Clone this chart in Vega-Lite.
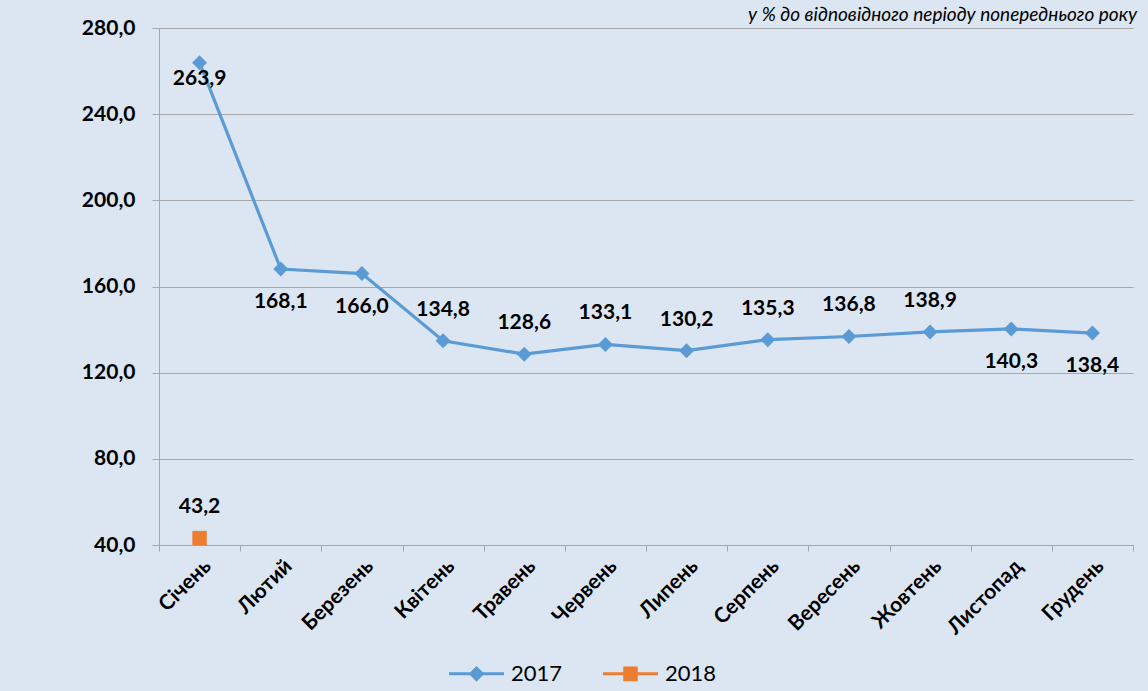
{
  "$schema": "https://vega.github.io/schema/vega-lite/v6.json",
  "width": 974,
  "height": 517,
  "autosize": {"type": "none"},
  "padding": {"left": 159, "top": 28, "right": 15, "bottom": 146},
  "background": "#DCE6F2",
  "config": {
    "locale": {"number": {"decimal": ",", "thousands": " ", "grouping": [3], "currency": ["", ""]}},
    "view": {"stroke": null},
    "font": "Lato"
  },
  "title": {
    "text": "у % до відповідного періоду попереднього року",
    "anchor": "end",
    "frame": "group",
    "fontStyle": "italic",
    "fontWeight": "normal",
    "fontSize": 19,
    "font": "Lato",
    "color": "black",
    "baseline": "alphabetic",
    "offset": -23,
    "dx": 4
  },
  "data": {
    "values": [
      {"month": "Січень", "series": "2017", "value": 263.9},
      {"month": "Лютий", "series": "2017", "value": 168.1},
      {"month": "Березень", "series": "2017", "value": 166.0},
      {"month": "Квітень", "series": "2017", "value": 134.8},
      {"month": "Травень", "series": "2017", "value": 128.6},
      {"month": "Червень", "series": "2017", "value": 133.1},
      {"month": "Липень", "series": "2017", "value": 130.2},
      {"month": "Серпень", "series": "2017", "value": 135.3},
      {"month": "Вересень", "series": "2017", "value": 136.8},
      {"month": "Жовтень", "series": "2017", "value": 138.9},
      {"month": "Листопад", "series": "2017", "value": 140.3},
      {"month": "Грудень", "series": "2017", "value": 138.4},
      {"month": "Січень", "series": "2018", "value": 43.2}
    ]
  },
  "encoding": {
    "x": {
      "field": "month",
      "type": "nominal",
      "sort": ["Січень", "Лютий", "Березень", "Квітень", "Травень", "Червень", "Липень", "Серпень", "Вересень", "Жовтень", "Листопад", "Грудень"],
      "scale": {"type": "band", "paddingInner": 0, "paddingOuter": 0},
      "bandPosition": 0.5,
      "axis": {
        "title": null,
        "labelAngle": -45,
        "labelFont": "Lato",
        "labelFontWeight": "bold",
        "labelFontSize": 21,
        "labelColor": "black",
        "labelPadding": 4,
        "tickBand": "extent",
        "tickColor": "#A6A6A6",
        "tickSize": 6,
        "domainColor": "#A6A6A6",
        "grid": false
      }
    },
    "y": {
      "field": "value",
      "type": "quantitative",
      "scale": {"domain": [40, 280], "nice": false, "zero": false},
      "axis": {
        "title": null,
        "values": [40, 80, 120, 160, 200, 240, 280],
        "format": ".1f",
        "labelFont": "Lato",
        "labelFontWeight": "bold",
        "labelFontSize": 21,
        "labelColor": "black",
        "labelPadding": 17,
        "tickSize": 7,
        "tickColor": "#A6A6A6",
        "domainColor": "#A6A6A6",
        "grid": true,
        "gridColor": "#A6A6A6",
        "gridOpacity": 1
      }
    }
  },
  "layer": [
    {
      "mark": {"type": "line", "strokeWidth": 3.2},
      "encoding": {
        "color": {
          "field": "series",
          "type": "nominal",
          "scale": {"domain": ["2017", "2018"], "range": ["#5B9BD5", "#ED7D31"]},
          "legend": {
            "orient": "none",
            "legendX": 302,
            "legendY": 630,
            "direction": "horizontal",
            "title": null,
            "symbolSize": 756,
            "symbolStrokeWidth": 3,
            "symbolOpacity": 1,
            "labelFont": "Lato",
            "labelFontSize": 22,
            "labelColor": "black",
            "labelOffset": 19,
            "columnPadding": 34,
            "encode": {
              "symbols": {
                "update": {
                  "shape": {"signal": "datum.value === '2017' ? 'M-2,0H2M0,-0.42L0.42,0L0,0.42L-0.42,0Z' : 'M-2,0H2M-0.42,-0.42H0.42V0.42H-0.42Z'"},
                  "fill": {"scale": "color", "field": "value"},
                  "stroke": {"scale": "color", "field": "value"},
                  "strokeWidth": {"value": 3}
                }
              }
            }
          }
        }
      }
    },
    {
      "transform": [{"filter": "datum.series === '2017'"}],
      "mark": {"type": "point", "filled": true, "size": 225, "opacity": 1, "shape": "diamond", "color": "#5B9BD5"}
    },
    {
      "transform": [{"filter": "datum.series === '2018'"}],
      "mark": {"type": "point", "filled": true, "size": 210, "opacity": 1, "shape": "square", "color": "#ED7D31"}
    },
    {
      "transform": [{"filter": "(datum.series === '2017' && indexof(['Квітень','Травень','Червень','Липень','Серпень','Вересень','Жовтень'], datum.month) >= 0) || datum.series === '2018'"}],
      "mark": {"type": "text", "dy": -31, "fontSize": 21, "fontWeight": "bold", "font": "Lato", "color": "black", "align": "center", "baseline": "middle"},
      "encoding": {"text": {"field": "value", "type": "quantitative", "format": ".1f"}}
    },
    {
      "transform": [{"filter": "datum.series === '2017' && indexof(['Лютий','Березень','Листопад','Грудень'], datum.month) >= 0"}],
      "mark": {"type": "text", "dy": 33, "fontSize": 21, "fontWeight": "bold", "font": "Lato", "color": "black", "align": "center", "baseline": "middle"},
      "encoding": {"text": {"field": "value", "type": "quantitative", "format": ".1f"}}
    },
    {
      "transform": [{"filter": "datum.series === '2017' && datum.month === 'Січень'"}],
      "mark": {"type": "text", "dy": 16, "fontSize": 21, "fontWeight": "bold", "font": "Lato", "color": "black", "align": "center", "baseline": "middle"},
      "encoding": {"text": {"field": "value", "type": "quantitative", "format": ".1f"}}
    }
  ]
}
